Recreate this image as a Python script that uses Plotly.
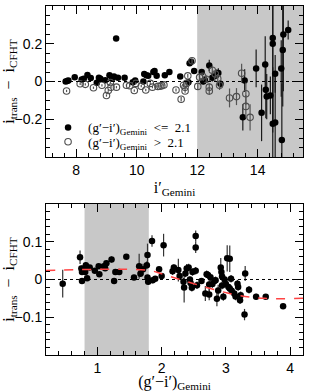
import plotly.graph_objects as go

# ---------------- top panel data ----------------
# filled = (g'-i') <= 2.1, open = (g'-i') > 2.1
top_filled_x = [7.65, 7.70, 7.74, 7.95, 8.18, 8.25, 8.37, 8.48, 8.68, 8.75, 8.80, 8.96, 9.10,
                9.18, 9.25, 9.32, 9.38, 9.60, 9.87, 9.95, 10.22, 10.25, 10.32, 10.38, 10.55,
                10.59, 10.66, 10.93, 11.08, 11.44, 11.71, 11.75, 11.80, 11.90, 12.15, 12.20,
                12.25, 12.40, 12.50, 12.58, 12.65, 12.70, 12.77, 13.51, 13.57, 13.95, 14.13,
                14.25, 14.27, 14.30, 14.42, 14.50, 14.50, 14.50, 14.58, 14.58, 14.78, 14.80,
                14.83, 14.85, 15.01]
top_filled_y = [0.0, 0.003, 0.005, 0.023, 0.010, 0.015, 0.035, 0.018, -0.007, 0.020, 0.015,
                0.007, 0.033, 0.015, 0.026, 0.228, 0.020, 0.020, -0.004, 0.005, 0.0, 0.040,
                0.033, 0.030, 0.050, 0.055, 0.030, 0.033, 0.050, 0.026, -0.004, 0.097, 0.105,
                0.055, 0.050, 0.0, 0.008, 0.085, 0.020, 0.030, 0.040, 0.045, -0.012, -0.190,
                0.005, 0.069, -0.166, 0.090, -0.044, -0.080, -0.074, 0.230, 0.200, -0.224,
                -0.217, 0.041, 0.069, -0.310, 0.167, 0.249, 0.273]
top_filled_err = [0.004, 0.004, 0.004, 0.004, 0.004, 0.004, 0.004, 0.004, 0.004, 0.004, 0.004,
                  0.004, 0.004, 0.004, 0.004, 0.005, 0.004, 0.004, 0.004, 0.004, 0.005, 0.005,
                  0.005, 0.005, 0.006, 0.006, 0.006, 0.006, 0.006, 0.008, 0.008, 0.010, 0.010,
                  0.010, 0.012, 0.015, 0.015, 0.030, 0.020, 0.020, 0.025, 0.025, 0.020, 0.070,
                  0.060, 0.100, 0.150, 0.150, 0.150, 0.120, 0.100, 0.500, 0.400, 0.300, 0.250,
                  0.100, 0.150, 0.300, 0.300, 0.300, 0.050]

top_open_x = [7.68, 8.13, 8.30, 8.57, 8.85, 9.00, 9.06, 9.13, 9.15, 9.33, 9.66, 9.77, 9.92,
              9.97, 10.15, 10.30, 10.45, 10.52, 10.70, 10.77, 10.83, 10.90, 11.30, 11.47,
              11.55, 11.60, 11.65, 11.60, 11.69, 11.83, 12.02, 12.08, 12.18, 12.30, 12.40,
              12.40, 12.50, 12.60, 12.68, 12.74, 13.07, 13.30, 13.47, 13.61, 13.61, 13.75]
top_open_y = [-0.050, -0.012, -0.015, -0.033, -0.020, -0.074, -0.048, -0.005, -0.030, -0.030,
              -0.020, -0.022, -0.048, -0.010, -0.025, -0.045, -0.010, -0.030, -0.026, -0.025,
              -0.022, -0.018, -0.045, -0.094, -0.020, -0.030, -0.010, -0.050, 0.030, 0.110,
              -0.026, 0.022, 0.028, 0.012, -0.030, -0.050, 0.060, 0.040, 0.015, -0.020,
              -0.087, -0.080, 0.044, -0.065, -0.132, -0.190]
top_open_err = [0.006, 0.006, 0.006, 0.006, 0.006, 0.006, 0.006, 0.006, 0.006, 0.006, 0.006,
                0.006, 0.006, 0.006, 0.006, 0.006, 0.006, 0.006, 0.006, 0.006, 0.006, 0.006,
                0.008, 0.012, 0.010, 0.010, 0.010, 0.010, 0.010, 0.012, 0.015, 0.015, 0.015,
                0.020, 0.020, 0.020, 0.020, 0.020, 0.025, 0.025, 0.050, 0.045, 0.050, 0.060,
                0.060, 0.070]

# ---------------- bottom panel data ----------------
bot_x = [0.46, 0.73, 0.75, 0.76, 0.76, 0.80, 0.81, 0.82, 0.84, 0.88, 0.96, 1.02, 1.03, 1.10,
         1.12, 1.14, 1.22, 1.26, 1.28, 1.34, 1.45, 1.57, 1.65, 1.67, 1.71, 1.77, 1.78, 1.78,
         1.79, 1.85, 1.86, 1.90, 1.96, 2.00, 2.03, 2.17, 2.19, 2.26, 2.28, 2.34, 2.35, 2.37,
         2.39, 2.42, 2.44, 2.45, 2.47, 2.48, 2.53, 2.53, 2.53, 2.55, 2.62, 2.68, 2.70, 2.72,
         2.74, 2.74, 2.76, 2.79, 2.82, 2.84, 2.86, 2.88, 2.92, 2.93, 2.94, 2.94, 2.96, 2.98,
         3.00, 3.02, 3.06, 3.04, 3.06, 3.08, 3.09, 3.13, 3.15, 3.18, 3.19, 3.22, 3.23, 3.29,
         3.30, 3.36, 3.47, 3.62, 3.89]
bot_y = [-0.011, 0.059, 0.029, 0.020, -0.004, 0.030, 0.020, 0.038, 0.003, 0.032, 0.023, 0.035,
         0.014, 0.035, 0.030, 0.043, 0.053, -0.004, 0.020, 0.020, 0.060, 0.005, 0.035, 0.015,
         0.027, 0.038, 0.065, 0.005, -0.006, 0.102, -0.002, 0.002, 0.027, 0.009, 0.091, 0.022,
         0.032, 0.025, 0.009, -0.006, -0.021, 0.016, 0.029, 0.032, 0.000, -0.009, -0.022,
         0.020, 0.115, 0.085, 0.023, -0.015, -0.004, -0.037, 0.014, 0.012, -0.013, -0.040,
         0.006, -0.012, -0.004, -0.002, -0.051, -0.029, 0.032, 0.020, 0.008, -0.016, -0.046,
         0.000, -0.012, 0.056, 0.055, -0.020, -0.024, 0.002, -0.030, -0.037, -0.045, -0.011,
         -0.020, -0.055, -0.042, -0.093, 0.016, -0.027, -0.046, -0.046, -0.071]
bot_err = [0.037, 0.018, 0.008, 0.006, 0.005, 0.006, 0.006, 0.008, 0.005, 0.006, 0.005, 0.006,
           0.005, 0.006, 0.006, 0.006, 0.008, 0.005, 0.005, 0.005, 0.006, 0.005, 0.033, 0.005,
           0.015, 0.010, 0.030, 0.006, 0.006, 0.015, 0.008, 0.006, 0.006, 0.006, 0.030, 0.010,
           0.008, 0.030, 0.010, 0.010, 0.040, 0.010, 0.012, 0.010, 0.008, 0.010, 0.010, 0.010,
           0.015, 0.015, 0.010, 0.010, 0.008, 0.020, 0.010, 0.010, 0.020, 0.015, 0.010, 0.010,
           0.010, 0.010, 0.020, 0.015, 0.025, 0.015, 0.010, 0.010, 0.010, 0.010, 0.010, 0.035,
           0.035, 0.010, 0.010, 0.010, 0.010, 0.010, 0.010, 0.010, 0.010, 0.010, 0.010, 0.015,
           0.020, 0.010, 0.008, 0.006, 0.006]

# red dashed trend line
trend_x = [0.2, 1.8, 2.0, 2.4, 2.8, 3.2, 3.6, 4.2]
trend_y = [0.024, 0.024, 0.015, -0.006, -0.026, -0.042, -0.050, -0.050]

# shaded ranges
shade_top = [12.0, 15.5]
shade_bot = [0.8, 1.8]

TITLE_FONT = dict(family="Liberation Serif", size=16, color="black")
TICK_FONT = dict(family="Liberation Sans", size=14, color="black")
LEGEND_FONT = dict(family="Liberation Serif", size=13, color="black")

fig = go.Figure()

# top panel
fig.add_trace(go.Scatter(
    x=top_filled_x, y=top_filled_y, mode="markers", xaxis="x", yaxis="y",
    name="(g′−i′)<sub>Gemini</sub>  <=  2.1", legend="legend",
    marker=dict(symbol="circle", size=6.5, color="black"),
    error_y=dict(type="data", array=top_filled_err, color="#1a1a1a", thickness=1.2, width=0),
))
fig.add_trace(go.Scatter(
    x=top_open_x, y=top_open_y, mode="markers", xaxis="x", yaxis="y",
    name="(g′−i′)<sub>Gemini</sub>  >  2.1", legend="legend2",
    marker=dict(symbol="circle-open", size=6.5, color="#4d4d4d", line=dict(width=1.1)),
    error_y=dict(type="data", array=top_open_err, color="#555555", thickness=1.2, width=0),
))
fig.add_trace(go.Scatter(
    x=[7, 15.5], y=[0, 0], mode="lines", xaxis="x", yaxis="y", showlegend=False,
    line=dict(color="black", width=1, dash="dot"), hoverinfo="skip",
))

# bottom panel
fig.add_trace(go.Scatter(
    x=bot_x, y=bot_y, mode="markers", xaxis="x2", yaxis="y2", showlegend=False,
    marker=dict(symbol="circle", size=6.5, color="black"),
    error_y=dict(type="data", array=bot_err, color="#333333", thickness=1.2, width=0),
))
fig.add_trace(go.Scatter(
    x=[0.2, 4.2], y=[0, 0], mode="lines", xaxis="x2", yaxis="y2", showlegend=False,
    line=dict(color="black", width=1, dash="dot"), hoverinfo="skip",
))
fig.add_trace(go.Scatter(
    x=trend_x, y=trend_y, mode="lines", xaxis="x2", yaxis="y2", showlegend=False,
    line=dict(color="#ff4444", width=1.5, dash="dash", shape="spline"), hoverinfo="skip",
))

fig.add_shape(type="rect", xref="x", yref="y domain", x0=shade_top[0], x1=shade_top[1],
              y0=0, y1=1, fillcolor="#c8c8c8", line=dict(width=0), layer="below")
fig.add_shape(type="rect", xref="x2", yref="y2 domain", x0=shade_bot[0], x1=shade_bot[1],
              y0=0, y1=1, fillcolor="#c8c8c8", line=dict(width=0), layer="below")

axis_common = dict(showgrid=False, zeroline=False, showline=True, linecolor="black",
                   linewidth=1, mirror="allticks", ticks="inside", ticklen=8, tickwidth=1,
                   tickcolor="black", tickfont=TICK_FONT, automargin=False)

def minor(dt):
    return dict(ticks="inside", ticklen=4, tickwidth=1, tickcolor="black", dtick=dt,
                showgrid=False)

legend_common = dict(xanchor="left", yanchor="middle", bgcolor="rgba(0,0,0,0)",
                     font=LEGEND_FONT, itemwidth=30, borderwidth=0)

fig.update_layout(
    width=311, height=392,
    margin=dict(l=46, r=8, t=6, b=37),
    paper_bgcolor="white", plot_bgcolor="white",
    xaxis=dict(domain=[0, 1], range=[7, 15.5], anchor="y", tickvals=[8, 10, 12, 14],
               minor=minor(0.4),
               title=dict(text="i′<sub>Gemini</sub>", font=TITLE_FONT, standoff=4),
               **axis_common),
    yaxis=dict(domain=[0.5673, 1.0], range=[-0.4, 0.4], anchor="x",
               tickvals=[-0.2, 0, 0.2], ticktext=["−0.2", "0", "0.2"],
               minor=dict(minor(0.05), tick0=0),
               title=dict(text="i<sub>trans</sub>  −  i<sub>CFHT</sub>", font=TITLE_FONT,
                          standoff=4),
               **axis_common),
    xaxis2=dict(domain=[0, 1], range=[0.2, 4.2], anchor="y2", tickvals=[1, 2, 3, 4],
                minor=dict(minor(0.2), tick0=0),
                title=dict(text="(g′−i′)<sub>Gemini</sub>", font=TITLE_FONT, standoff=3),
                **axis_common),
    yaxis2=dict(domain=[0, 0.4327], range=[-0.2, 0.2], anchor="x2",
                tickvals=[-0.1, 0, 0.1], ticktext=["−0.1", "0", "0.1"],
                minor=dict(minor(0.02), tick0=0),
                title=dict(text="i<sub>trans</sub>  −  i<sub>CFHT</sub>", font=TITLE_FONT,
                           standoff=4),
                **axis_common),
    showlegend=True,
    legend=dict(x=0.008, y=0.652, **legend_common),
    legend2=dict(x=0.008, y=0.611, **legend_common),
)

fig.write_html("out.html", config={"displayModeBar": False},
               post_script="document.body.style.margin='0px';document.body.style.overflow='hidden';")
